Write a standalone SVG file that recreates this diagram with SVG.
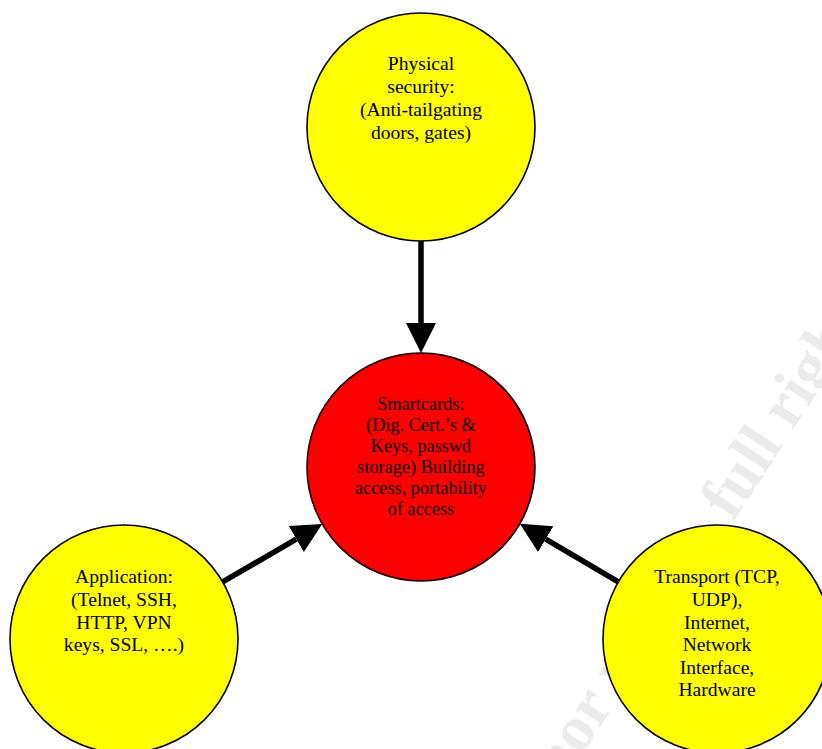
<svg xmlns="http://www.w3.org/2000/svg" width="822" height="749" viewBox="0 0 822 749">
<style>
.node circle{stroke:#000;stroke-width:1.6}
.yellow{fill:#ffff00}
.red{fill:#ff0000}
.lbl{font-family:"Liberation Serif","Times New Roman",serif;font-size:19.6px;fill:#000;text-anchor:middle}
.lbl.small{font-size:18.3px}
.conn line{stroke:#000;stroke-width:5.5;marker-end:url(#arrow)}
.wm{font-family:"Liberation Serif","Times New Roman",serif;font-weight:bold;font-size:64px;fill:#ebebeb}
</style>
<defs>
<marker id="arrow" markerUnits="userSpaceOnUse" markerWidth="31" markerHeight="31" refX="0" refY="15" orient="auto" viewBox="0 0 31 31">
<path d="M0,0 L30,15 L0,30 Z" fill="#000"/>
</marker>
</defs>
<rect width="822" height="749" fill="#fff"/>
<text class="wm" transform="translate(506,872) rotate(-57)">Author retains full rights.</text>
<g class="conn" id="connectors">
<line x1="421" y1="241" x2="421" y2="323"/>
<line x1="222.7" y1="581.9" x2="296.3" y2="539.1"/>
<line x1="618.3" y1="581.9" x2="545.7" y2="539.1"/>
</g>
<g class="node" id="physical">
<circle class="yellow" cx="421" cy="127" r="114"/>
<text class="lbl" x="421" y="70">Physical</text>
<text class="lbl" x="421" y="93">security:</text>
<text class="lbl" x="421" y="116">(Anti-tailgating</text>
<text class="lbl" x="421" y="139">doors, gates)</text>
</g>
<g class="node" id="smartcards">
<circle class="red" cx="421" cy="467" r="114"/>
<text class="lbl small" x="421" y="410">Smartcards:</text>
<text class="lbl small" x="421" y="431">(Dig. Cert.’s &amp;</text>
<text class="lbl small" x="421" y="452">Keys, passwd</text>
<text class="lbl small" x="421" y="473">storage) Building</text>
<text class="lbl small" x="421" y="494">access, portability</text>
<text class="lbl small" x="421" y="515">of access</text>
</g>
<g class="node" id="application">
<circle class="yellow" cx="124" cy="639" r="114"/>
<text class="lbl" x="124" y="583">Application:</text>
<text class="lbl" x="124" y="606">(Telnet, SSH,</text>
<text class="lbl" x="124" y="628.5">HTTP, VPN</text>
<text class="lbl" x="124" y="651">keys, SSL, ….)</text>
</g>
<g class="node" id="transport">
<circle class="yellow" cx="717" cy="639" r="114"/>
<text class="lbl" x="717" y="583">Transport (TCP,</text>
<text class="lbl" x="717" y="606">UDP),</text>
<text class="lbl" x="717" y="628.5">Internet,</text>
<text class="lbl" x="717" y="651">Network</text>
<text class="lbl" x="717" y="673.5">Interface,</text>
<text class="lbl" x="717" y="696">Hardware</text>
</g>
</svg>
